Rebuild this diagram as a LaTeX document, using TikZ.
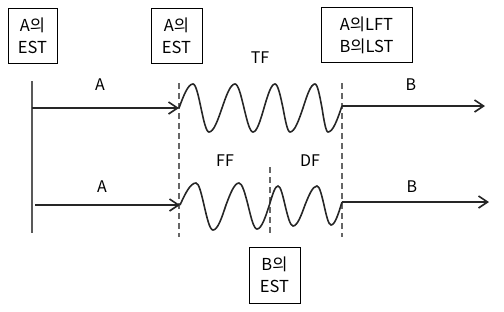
\documentclass[tikz,border=0pt]{standalone}
\usepackage{fontspec}
\setmainfont{Noto Sans CJK KR}
\usetikzlibrary{arrows.meta}
\tikzset{
  tbox/.style={draw, line width=0.8pt, align=center, inner sep=3pt, font=\fontsize{16.5}{22}\selectfont},
  lbl/.style={font=\fontsize{16}{18}\selectfont},
  act/.style={line width=1.6pt, draw=black!85, -{Straight Barb[length=9pt,width=12pt]}},
  wave/.style={line width=1.6pt, draw=black!85},
  guide/.style={dash pattern=on 6pt off 4pt, line width=1.3pt, draw=black!60},
}
\begin{document}
\begin{tikzpicture}[x=1pt, y=-1pt]
\useasboundingbox (0,0) rectangle (504,311);
% event boxes
\node[tbox, minimum width=49pt, minimum height=55pt] (estA1) at (32.5,35.5) {A의\\EST};
\node[tbox, minimum width=51pt, minimum height=55pt] (estA2) at (176.5,35.5) {A의\\EST};
\node[tbox, minimum width=91pt, minimum height=55pt] (lft) at (366.5,35) {A의LFT\\B의LST};
\node[tbox, minimum width=51pt, minimum height=56pt] (estB) at (274.5,275) {B의\\EST};
% activity labels
\node[lbl] (lA1) at (100,85) {A};
\node[lbl] (lB1) at (411,85) {B};
\node[lbl] (lTF) at (260,58) {TF};
\node[lbl] (lA2) at (102,187) {A};
\node[lbl] (lB2) at (412,187) {B};
\node[lbl] (lFF) at (225,161) {FF};
\node[lbl] (lDF) at (310,161) {DF};
% end points
\coordinate (s0) at (32,81);
\coordinate (s1) at (32,233);
\coordinate (a1) at (32,108);
\coordinate (a2) at (35,205);
\coordinate (w1) at (179,108);
\coordinate (w2) at (180,205);
\coordinate (v1) at (342,106);
\coordinate (v2) at (342,202);
\coordinate (b1) at (485,106);
\coordinate (b2) at (489,202);
\coordinate (d1t) at (179,83);
\coordinate (d1b) at (179,237);
\coordinate (d2t) at (270,167);
\coordinate (d2b) at (270,235);
\coordinate (d3t) at (342,83);
\coordinate (d3b) at (342,237);
% time guides
\draw[line width=1.5pt, draw=black!65] (s0) -- (s1);
\draw[guide] (d1t) -- (d1b);
\draw[guide] (d2t) -- (d2b);
\draw[guide] (d3t) -- (d3b);
% activities
\draw[act] (a1) -- (w1);
\draw[act] (a2) -- (w2);
\draw[act] (v1) -- (b1);
\draw[act] (v2) -- (b2);
% floats
\draw[wave] (w1) sin (193,84) cos (201,108) sin (209,132) cos (222,108) sin (235,84) cos (244,108)
  sin (253,132) cos (264,108) sin (275,84) cos (283,108) sin (290,132) cos (303,108)
  sin (315,84) cos (322,108) sin (328,132) cos (v1);
\draw[wave] (w2) sin (196,183) cos (204,205) sin (213,230) cos (226,205) sin (239,183) cos (248,205)
  sin (257,229) cos (270,203) sin (278,186) cos (285,205) sin (293,226) cos (305,205)
  sin (317,186) cos (324,205) sin (331,225) cos (v2);
\end{tikzpicture}
\end{document}
